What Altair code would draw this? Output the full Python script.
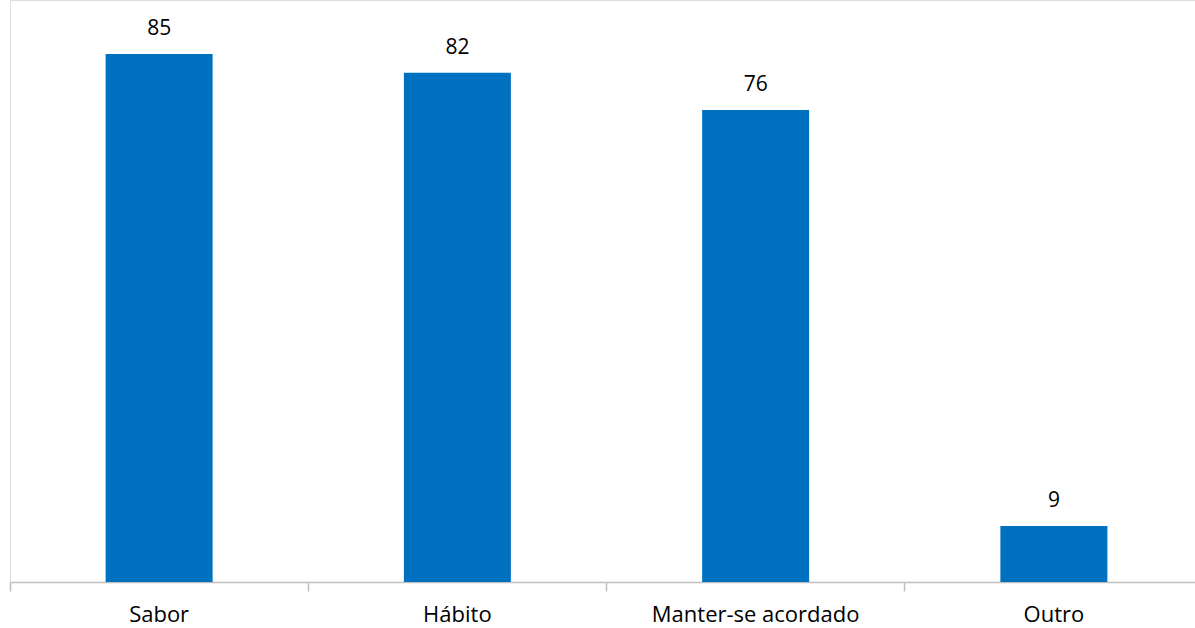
import altair as alt
import pandas as pd

categories = ["Sabor", "Hábito", "Manter-se acordado", "Outro"]
values = [85, 82, 76, 9]

df = pd.DataFrame({"cat": categories, "val": values})

x = alt.X("cat:N", sort=categories, title=None,
          scale=alt.Scale(paddingInner=0, paddingOuter=0, range=[0, 1193]),
          axis=alt.Axis(labelAngle=0, bandPosition=0, labelFont="Open Sans", labelFontSize=22,
                        labelColor="#000000", labelPadding=13, labelLimit=0, tickSize=9,
                        tickColor="#BFBFBF", domainColor="#BFBFBF", domainWidth=1.5,
                        tickWidth=1.5, grid=False))
y = alt.Y("val:Q", title=None, scale=alt.Scale(domain=[0, 93.7], nice=False, zero=True), axis=None)

bars = alt.Chart(df).mark_bar(color="#0070C0", size=107).encode(x=x, y=y)
text = alt.Chart(df).mark_text(baseline="bottom", dy=-15, font="Open Sans", fontSize=21,
                               color="#000000").encode(x=x, y=y, text="val:Q")

chart = (bars + text).properties(
    width=1185, height=582,
    autosize=alt.AutoSizeParams(type="none"),
    padding={"left": 10, "top": 0, "right": 0, "bottom": 46},
).configure_view(stroke=None).configure(background="white")

chart.save("out.html", embed_options={"renderer": "svg", "actions": False})
